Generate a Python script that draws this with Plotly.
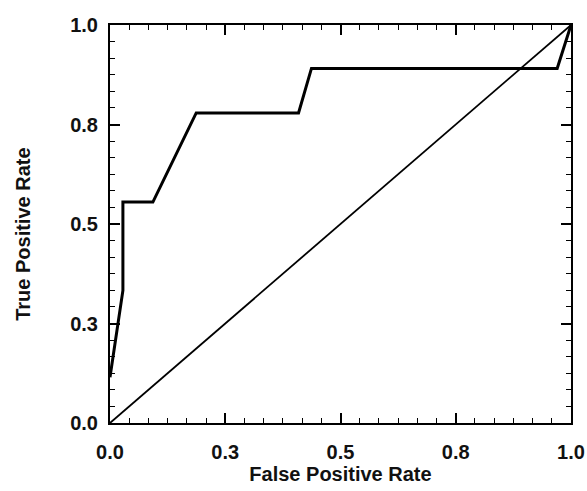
import plotly.graph_objects as go

# ROC curve
fpr = [0.0, 0.028, 0.028, 0.093, 0.187, 0.409, 0.437, 0.970, 1.0]
tpr = [0.115, 0.333, 0.555, 0.555, 0.779, 0.779, 0.891, 0.891, 1.0]

# chance diagonal
diag_x = [0.0, 1.0]
diag_y = [0.0, 1.0]

tick_vals = [0.0, 0.25, 0.5, 0.75, 1.0]
tick_text = ["0.0", "0.3", "0.5", "0.8", "1.0"]

x_title = "False Positive Rate"
y_title = "True Positive Rate"

fig = go.Figure()
fig.add_trace(go.Scatter(x=diag_x, y=diag_y, mode="lines",
                         line=dict(color="black", width=1.8), cliponaxis=False,
                         showlegend=False))
fig.add_trace(go.Scatter(x=fpr, y=tpr, mode="lines",
                         line=dict(color="black", width=3), cliponaxis=False,
                         showlegend=False))

font = dict(family="Liberation Sans, Arial, sans-serif", size=20, color="#111",
            weight="bold")
axis_common = dict(
    range=[0, 1], tickmode="array", tickvals=tick_vals, ticktext=tick_text,
    ticks="inside", ticklen=10, tickwidth=1.5, tickcolor="black",
    showline=True, linecolor="black", linewidth=2, mirror="ticks",
    showgrid=False, zeroline=False, tickfont=font, automargin=False,
    minor=dict(ticks="inside", ticklen=5, tickwidth=1.3, tickcolor="black",
               dtick=1/24, tick0=0, showgrid=False),
)

fig.update_layout(
    width=587, height=491,
    margin=dict(l=110, r=16, t=25, b=68),
    paper_bgcolor="white", plot_bgcolor="white",
    hovermode=False,
    xaxis=dict(**axis_common, ticklabelstandoff=10,
               title=dict(text=x_title, font=font, standoff=5)),
    yaxis=dict(**axis_common, ticklabelstandoff=6),
    annotations=[dict(text=y_title, font=font, textangle=-90,
                      xref="paper", yref="paper", x=-0.189, y=0.475,
                      xanchor="center", yanchor="middle", showarrow=False)],
)
fig.write_html("out.html",
               config={"displayModeBar": False},
               post_script="document.body.style.margin='0';")
